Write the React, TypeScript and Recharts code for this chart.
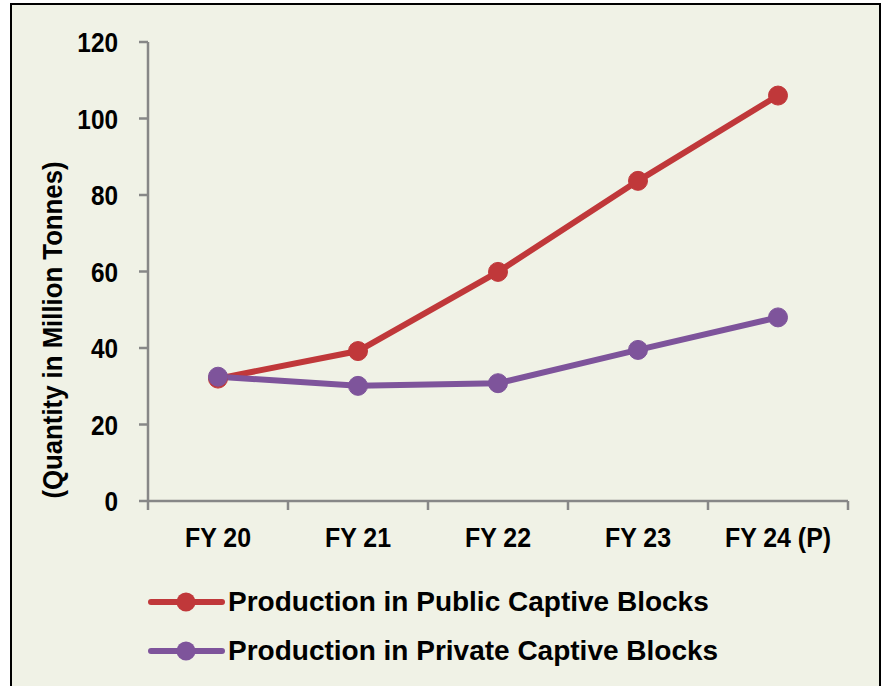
import React from "react";
import { ComposedChart, Line, XAxis, YAxis, Legend, Label } from "recharts";

const categories = ["FY 20", "FY 21", "FY 22", "FY 23", "FY 24 (P)"];
const publicCaptive = [32.0, 39.2, 59.9, 83.7, 106.0];
const privateCaptive = [32.5, 30.1, 30.8, 39.5, 48.0];
const yTicks = [0, 20, 40, 60, 80, 100, 120];

const seriesNames = {
  pub: "Production in Public Captive Blocks",
  priv: "Production in Private Captive Blocks",
};
const legendOrder = [seriesNames.pub, seriesNames.priv];

const RED = "#C0383A";
const PURPLE = "#7E549B";
const AXIS = "#878787";
const FONT = "'Liberation Sans', Arial, sans-serif";
const X_TICK_MARGIN = 26;
const X_TICK_SIZE = 9;

const data = categories.map((c, i) => ({
  year: c,
  pub: publicCaptive[i],
  priv: privateCaptive[i],
}));

const YTick = (props: any) => {
  const { x, y, payload } = props;
  return (
    <text
      transform={`translate(${x},${y}) scale(0.87,1)`}
      textAnchor="end"
      dy="0.36em"
      fill="#000"
      style={{ fontFamily: FONT, fontWeight: "bold", fontSize: 28 }}
    >
      {payload.value}
    </text>
  );
};

const XTick = (props: any) => {
  const { x, y, payload, index, width, visibleTicksCount } = props;
  const band = width / visibleTicksCount;
  const axisY = y - X_TICK_MARGIN;
  const left = x - band / 2;
  const right = x + band / 2;
  return (
    <g>
      <line x1={left} x2={left} y1={axisY} y2={axisY + X_TICK_SIZE} stroke={AXIS} strokeWidth={2.5} />
      {index === visibleTicksCount - 1 && (
        <line x1={right} x2={right} y1={axisY} y2={axisY + X_TICK_SIZE} stroke={AXIS} strokeWidth={2.5} />
      )}
      <text
        transform={`translate(${x},${y}) scale(0.89,1)`}
        textAnchor="middle"
        dy="0.71em"
        fill="#000"
        style={{ fontFamily: FONT, fontWeight: "bold", fontSize: 28 }}
      >
        {payload.value}
      </text>
    </g>
  );
};

const LegendContent = (props: any) => {
  const items = [...(props.payload || [])].sort(
    (a: any, b: any) => legendOrder.indexOf(a.value) - legendOrder.indexOf(b.value)
  );
  return (
    <div style={{ display: "flex", flexDirection: "column" }}>
      {items.map((it: any) => (
        <div key={it.value} style={{ display: "flex", alignItems: "center", height: 49 }}>
          <svg width={78} height={24} style={{ marginRight: 3 }}>
            <line x1={4} y1={12} x2={75} y2={12} stroke={it.color} strokeWidth={6} strokeLinecap="round" />
            <circle cx={39} cy={12} r={9.5} fill={it.color} />
          </svg>
          <span style={{ fontFamily: FONT, fontWeight: "bold", fontSize: 28, color: "#000", whiteSpace: "nowrap" }}>
            {it.value}
          </span>
        </div>
      ))}
    </div>
  );
};

export default function App() {
  return (
    <div style={{ position: "absolute", left: 0, top: 0, width: 883, height: 686, background: "#fff", overflow: "hidden" }}>
      <div
        style={{
          position: "absolute",
          left: 10,
          top: 3,
          width: 867,
          height: 700,
          border: "2px solid #000",
          background: "#F0F2E6",
        }}
      />
      <div style={{ position: "absolute", left: 0, top: 0 }}>
        <ComposedChart width={883} height={686} data={data} margin={{ top: 42, right: 35, left: 48, bottom: 135 }}>
          <XAxis
            dataKey="year"
            scale="band"
            axisLine={{ stroke: AXIS, strokeWidth: 2.5 }}
            tickLine={false}
            tickSize={0}
            tickMargin={X_TICK_MARGIN}
            height={50}
            interval={0}
            tick={<XTick />}
          />
          <YAxis
            width={100}
            domain={[0, 120]}
            ticks={yTicks}
            interval={0}
            tickSize={9}
            tickMargin={21}
            axisLine={{ stroke: AXIS, strokeWidth: 2.5 }}
            tickLine={{ stroke: AXIS, strokeWidth: 2.5 }}
            tick={<YTick />}
          >
            <Label
              content={() => (
                <text
                  transform="translate(52 330) rotate(-90) scale(0.92,1)"
                  textAnchor="middle"
                  dy="0.36em"
                  fill="#000"
                  style={{ fontFamily: FONT, fontWeight: "bold", fontSize: 28 }}
                >
                  (Quantity in Million Tonnes)
                </text>
              )}
            />
          </YAxis>
          <Legend
            layout="vertical"
            align="center"
            verticalAlign="middle"
            wrapperStyle={{ left: 147, top: 577, width: 700 }}
            content={<LegendContent />}
          />
          <Line
            dataKey="pub"
            name={seriesNames.pub}
            stroke={RED}
            strokeWidth={6}
            dot={{ r: 9.5, fill: RED, stroke: RED, strokeWidth: 1 }}
            activeDot={false}
            isAnimationActive={false}
          />
          <Line
            dataKey="priv"
            name={seriesNames.priv}
            stroke={PURPLE}
            strokeWidth={6}
            dot={{ r: 9.5, fill: PURPLE, stroke: PURPLE, strokeWidth: 1 }}
            activeDot={false}
            isAnimationActive={false}
          />
        </ComposedChart>
      </div>
    </div>
  );
}
